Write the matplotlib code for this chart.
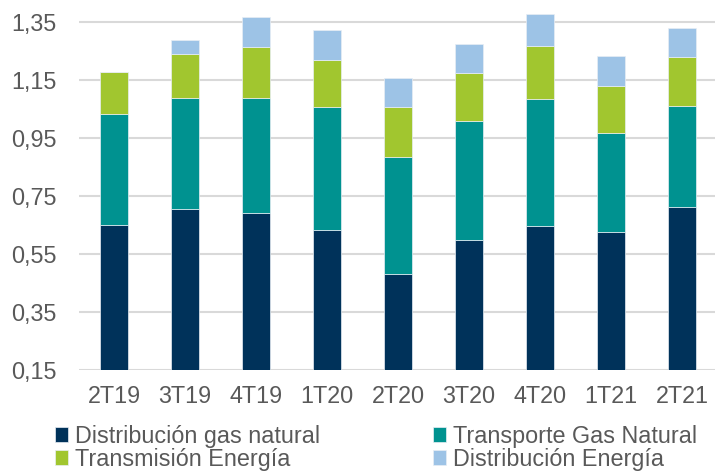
import numpy as np
import matplotlib.pyplot as plt

# Quarterly values by business line
quarters = ['2T19', '3T19', '4T19', '1T20', '2T20', '3T20', '4T20', '1T21', '2T21']
dist_gas = [0.650, 0.705, 0.690, 0.633, 0.481, 0.598, 0.647, 0.625, 0.712]
transp_gas = [0.384, 0.384, 0.400, 0.426, 0.405, 0.411, 0.439, 0.344, 0.349]
transm_energia = [0.144, 0.150, 0.176, 0.162, 0.170, 0.167, 0.183, 0.162, 0.169]
dist_energia = [0.000, 0.051, 0.102, 0.102, 0.101, 0.098, 0.110, 0.102, 0.099]

y_ticks = [0.15, 0.35, 0.55, 0.75, 0.95, 1.15, 1.35]
y_labels = ['0,15', '0,35', '0,55', '0,75', '0,95', '1,15', '1,35']

series = [
    ('Distribución gas natural', dist_gas, '#00325A'),
    ('Transporte Gas Natural', transp_gas, '#009290'),
    ('Transmisión Energía', transm_energia, '#A1C62F'),
    ('Distribución Energía', dist_energia, '#9DC3E6'),
]

plt.rcParams['font.family'] = ['Liberation Sans', 'DejaVu Sans']
text_color = '#595959'
fs = 16.8

fig = plt.figure(figsize=(7.15, 4.74), dpi=100)
ax = fig.add_axes([0.1098, 0.22, 0.8937, 0.7635])

x = np.arange(len(quarters))
base = np.full(len(quarters), 0.0)
bars = {}
for name, vals, color in series:
    vals = np.array(vals)
    # Bars start at the axis floor so the bottom segment sits on 0,15
    bottom = np.where(base == 0, 0.15, base)
    heights = np.where(base == 0, vals - 0.15, vals)
    b = ax.bar(x, heights, bottom=bottom, width=0.39, color=color,
               edgecolor='#E8EEF4', linewidth=0.5, zorder=3, label=name)
    bars[name] = b
    base = bottom + heights

ax.set_xlim(-0.5, len(quarters) - 0.5)
ax.set_ylim(0.15, 1.40)
ax.set_yticks(y_ticks)
ax.set_yticklabels(y_labels)
ax.set_xticks(x)
ax.set_xticklabels(quarters)
ax.tick_params(axis='both', length=0, labelsize=fs, colors=text_color)
ax.tick_params(axis='y', pad=15.5)
ax.tick_params(axis='x', pad=11)

ax.yaxis.grid(True, color='#D9D9D9', linewidth=1.5, zorder=0)
for s in ['top', 'right', 'left', 'bottom']:
    ax.spines[s].set_visible(False)

# Legend in two columns, filled column-first
order = ['Distribución gas natural', 'Transmisión Energía',
         'Transporte Gas Natural', 'Distribución Energía']
leg = fig.legend([bars[n] for n in order], order, ncol=2,
                 loc='upper left', bbox_to_anchor=(0.0769, 0.104),
                 frameon=False, fontsize=fs, handlelength=0.56,
                 handleheight=0.56, handletextpad=0.3, columnspacing=4.85,
                 labelspacing=0.0, borderpad=0, borderaxespad=0)
for t in leg.get_texts():
    t.set_color(text_color)

fig.savefig('out.png', dpi=100)
